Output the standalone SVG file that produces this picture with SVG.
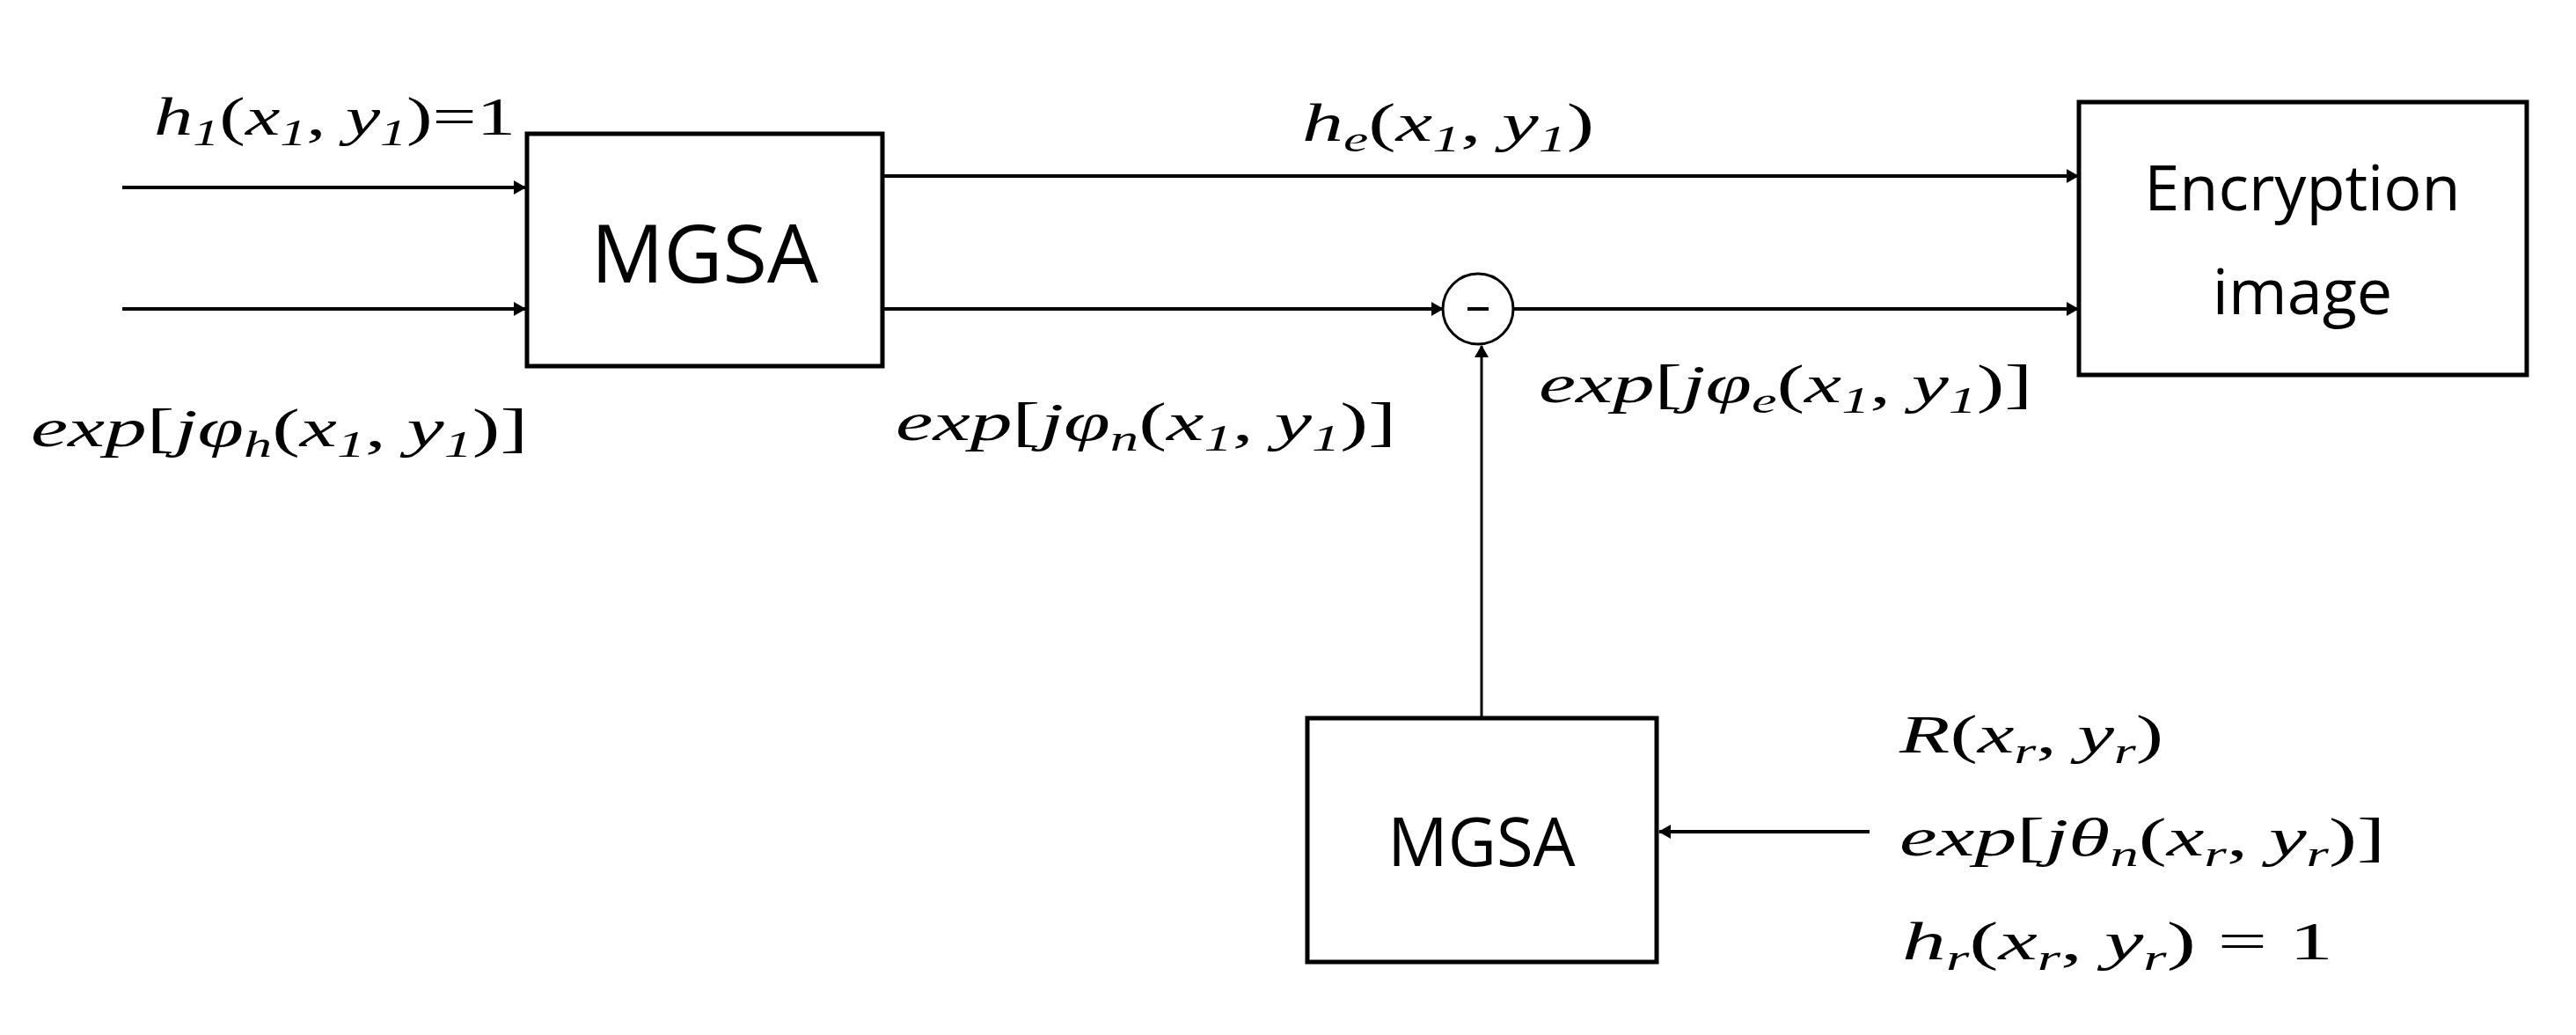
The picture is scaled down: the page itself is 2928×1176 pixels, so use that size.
<svg xmlns="http://www.w3.org/2000/svg" width="2928" height="1176" viewBox="0 0 2928 1176">
<style>
.box{fill:#fff;stroke:#000;stroke-width:5}
.lbl{font-family:"Open Sans","Liberation Sans",sans-serif;fill:#000;text-anchor:middle}
.m{font-family:"Liberation Serif",serif;font-style:italic;font-size:62px;fill:#000}
.u{font-style:normal}
.c{fill:none;stroke:#000;stroke-width:4}
</style>
<defs>
<marker id="ah" markerWidth="8" markerHeight="8" refX="7" refY="4" orient="auto" markerUnits="userSpaceOnUse" viewBox="0 0 8 8"><path d="M0,0 L8,4 L0,8 z" fill="#000"/></marker>
<marker id="ahb" markerWidth="14" markerHeight="16" refX="13" refY="8" orient="auto" markerUnits="userSpaceOnUse"><path d="M0,0 L14,8 L0,16 z" fill="#000"/></marker>
</defs>
<g id="connectors">
<line class="c" x1="139" y1="213" x2="597" y2="213" marker-end="url(#ahb)"/>
<line class="c" x1="139" y1="351" x2="597" y2="351" marker-end="url(#ahb)"/>
<line class="c" x1="1003" y1="200" x2="2362" y2="200" marker-end="url(#ahb)"/>
<line class="c" x1="1003" y1="351" x2="1640" y2="351" marker-end="url(#ahb)"/>
<line class="c" x1="1720" y1="351" x2="2362" y2="351" marker-end="url(#ahb)"/>
<line class="c" style="stroke-width:3" x1="1684" y1="816" x2="1684" y2="393" marker-end="url(#ahb)"/>
<line class="c" x1="2125" y1="945" x2="1886" y2="945" marker-end="url(#ahb)"/>
</g>
<g id="mgsa1"><rect class="box" x="599" y="152" width="404" height="264"/><text class="lbl" x="801" y="321" font-size="92">MGSA</text></g>
<g id="enc"><rect class="box" x="2363" y="116" width="509" height="310"/><text class="lbl" x="2617" y="239" font-size="72">Encryption</text><text class="lbl" x="2617" y="357" font-size="72">image</text></g>
<g id="minus"><circle cx="1680" cy="351" r="40" fill="#fff" stroke="#000" stroke-width="3"/><line x1="1668" y1="351" x2="1692" y2="351" stroke="#000" stroke-width="4"/></g>
<g id="mgsa2"><rect class="box" x="1486" y="816" width="397" height="277"/><text class="lbl" x="1684" y="984" font-size="76">MGSA</text></g>
<g id="labels">
<text class="m" x="175" y="153" textLength="411" lengthAdjust="spacingAndGlyphs">h<tspan font-size="42" dy="12">1</tspan><tspan class="u" dy="-12">(</tspan>x<tspan font-size="42" dy="12">1</tspan><tspan class="u" dy="-12">, </tspan>y<tspan font-size="42" dy="12">1</tspan><tspan class="u" dy="-12">)=1</tspan></text>
<text class="m" x="35" y="507" textLength="565" lengthAdjust="spacingAndGlyphs">exp<tspan class="u">[</tspan>jφ<tspan font-size="42" dy="12">h</tspan><tspan class="u" dy="-12">(</tspan>x<tspan font-size="42" dy="12">1</tspan><tspan class="u" dy="-12">, </tspan>y<tspan font-size="42" dy="12">1</tspan><tspan class="u" dy="-12">)]</tspan></text>
<text class="m" x="1480" y="160" textLength="332" lengthAdjust="spacingAndGlyphs">h<tspan font-size="42" dy="12">e</tspan><tspan class="u" dy="-12">(</tspan>x<tspan font-size="42" dy="12">1</tspan><tspan class="u" dy="-12">, </tspan>y<tspan font-size="42" dy="12">1</tspan><tspan class="u" dy="-12">)</tspan></text>
<text class="m" x="1018" y="500" textLength="569" lengthAdjust="spacingAndGlyphs">exp<tspan class="u">[</tspan>jφ<tspan font-size="42" dy="12">n</tspan><tspan class="u" dy="-12">(</tspan>x<tspan font-size="42" dy="12">1</tspan><tspan class="u" dy="-12">, </tspan>y<tspan font-size="42" dy="12">1</tspan><tspan class="u" dy="-12">)]</tspan></text>
<text class="m" x="1749" y="457" textLength="561" lengthAdjust="spacingAndGlyphs">exp<tspan class="u">[</tspan>jφ<tspan font-size="42" dy="12">e</tspan><tspan class="u" dy="-12">(</tspan>x<tspan font-size="42" dy="12">1</tspan><tspan class="u" dy="-12">, </tspan>y<tspan font-size="42" dy="12">1</tspan><tspan class="u" dy="-12">)]</tspan></text>
<text class="m" x="2159" y="855" textLength="300" lengthAdjust="spacingAndGlyphs">R<tspan class="u">(</tspan>x<tspan font-size="42" dy="12">r</tspan><tspan class="u" dy="-12">, </tspan>y<tspan font-size="42" dy="12">r</tspan><tspan class="u" dy="-12">)</tspan></text>
<text class="m" x="2159" y="972" textLength="552" lengthAdjust="spacingAndGlyphs">exp<tspan class="u">[</tspan>jθ<tspan font-size="42" dy="12">n</tspan><tspan class="u" dy="-12">(</tspan>x<tspan font-size="42" dy="12">r</tspan><tspan class="u" dy="-12">, </tspan>y<tspan font-size="42" dy="12">r</tspan><tspan class="u" dy="-12">)]</tspan></text>
<text class="m" x="2162" y="1090" textLength="490" lengthAdjust="spacingAndGlyphs">h<tspan font-size="42" dy="12">r</tspan><tspan class="u" dy="-12">(</tspan>x<tspan font-size="42" dy="12">r</tspan><tspan class="u" dy="-12">, </tspan>y<tspan font-size="42" dy="12">r</tspan><tspan class="u" dy="-12">) = 1</tspan></text>
</g>
</svg>
